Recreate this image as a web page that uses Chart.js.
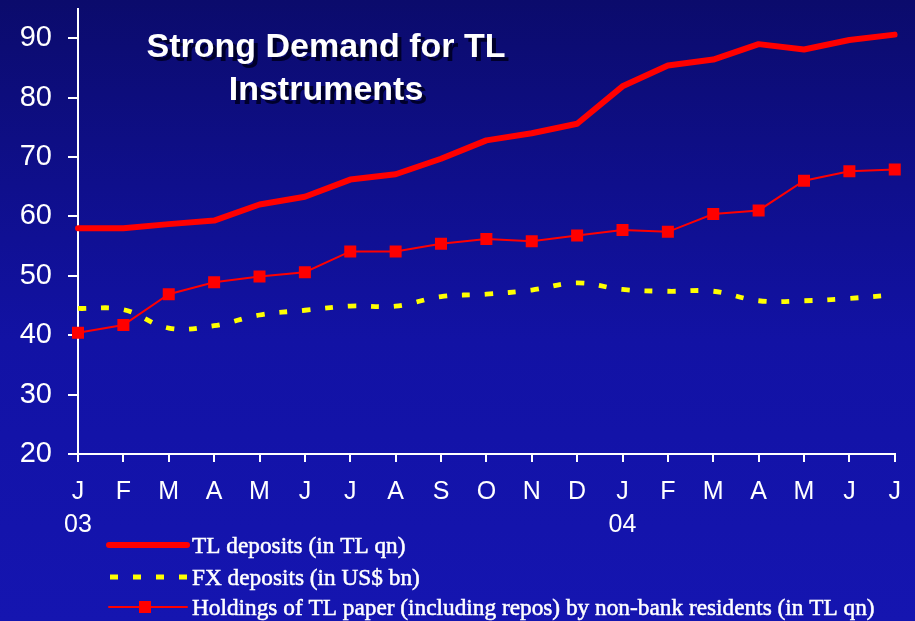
<!DOCTYPE html>
<html>
<head>
<meta charset="utf-8">
<script src="https://cdn.jsdelivr.net/npm/chart.js@4.4.1/dist/chart.umd.min.js"></script>
<style>
  html, body { margin: 0; padding: 0; }
  body {
    width: 915px; height: 621px; overflow: hidden;
    background: linear-gradient(to bottom, #0b0b6c 0%, #0f0f8c 30%, #1212a4 55%, #1515b0 100%);
  }
</style>
</head>
<body>
<canvas id="chart" width="915" height="621"></canvas>
<script>
// Datos (ene 2003 - jul 2004)
const months = [['J', '03'], 'F', 'M', 'A', 'M', 'J', 'J', 'A', 'S', 'O', 'N', 'D',
                ['J', '04'], 'F', 'M', 'A', 'M', 'J', 'J'];
const tlDeposits = [58.0, 58.0, 58.7, 59.3, 62.0, 63.3, 66.2, 67.1, 69.7, 72.8, 74.0, 75.6,
                    81.9, 85.4, 86.4, 89.0, 88.1, 89.7, 90.6];
const fxDeposits = [44.5, 44.3, 41.2, 41.6, 43.4, 44.2, 44.9, 44.9, 46.5, 46.9, 47.6, 48.8,
                    47.7, 47.4, 47.4, 45.8, 45.8, 46.2, 46.8];
const tlPaper = [40.4, 41.7, 46.9, 48.9, 49.9, 50.6, 54.1, 54.1, 55.4, 56.2, 55.8, 56.8,
                 57.7, 57.4, 60.4, 61.0, 66.0, 67.6, 67.9];
const yTicks = [20, 30, 40, 50, 60, 70, 80, 90];
const seriesNames = ['TL deposits (in TL qn)', 'FX deposits (in US$ bn)',
                     'Holdings of TL paper (including repos) by non-bank residents (in TL qn)'];
const chartTitle = ['Strong Demand for TL', 'Instruments'];

// Título con sombra dentro del área del gráfico
const titlePlugin = {
  id: 'slideTitle',
  afterDatasetsDraw(chart) {
    const ctx = chart.ctx;
    ctx.save();
    ctx.font = 'bold 34px "Liberation Sans", Arial, sans-serif';
    ctx.textAlign = 'center';
    ctx.textBaseline = 'alphabetic';
    ctx.shadowColor = 'rgba(0, 0, 40, 0.95)';
    ctx.shadowOffsetX = 4;
    ctx.shadowOffsetY = 4;
    ctx.shadowBlur = 0;
    ctx.fillStyle = '#ffffff';
    chartTitle.forEach((line, i) => ctx.fillText(line, 326, 57 + i * 43));
    ctx.restore();
  }
};

// Leyenda dibujada a mano (línea + marcador)
const legendPlugin = {
  id: 'lineLegend',
  afterDraw(chart) {
    const ctx = chart.ctx;
    const rows = [545, 577, 607];
    ctx.save();
    chart.data.datasets.forEach((ds, i) => {
      const y = rows[i];
      ctx.beginPath();
      ctx.strokeStyle = ds.borderColor;
      ctx.lineWidth = ds.borderWidth;
      ctx.lineCap = ds.borderDash ? 'butt' : 'round';
      ctx.setLineDash(ds.borderDash || []);
      ctx.moveTo(ds.borderDash ? 110 : 109, y);
      ctx.lineTo(187, y);
      ctx.stroke();
      ctx.setLineDash([]);
      if (ds.pointRadius > 0) {
        ctx.fillStyle = ds.pointBackgroundColor;
        ctx.fillRect(139, y - 6, 12, 12);
      }
      ctx.font = '23.3px "Liberation Serif", "Times New Roman", serif';
      ctx.fillStyle = '#ffffff';
      ctx.strokeStyle = '#ffffff';
      ctx.lineWidth = 0.5;
      ctx.textAlign = 'left';
      ctx.textBaseline = 'middle';
      ctx.fillText(ds.label, 192, y + 2);
      ctx.strokeText(ds.label, 192, y + 2);
    });
    ctx.restore();
  }
};

new Chart(document.getElementById('chart'), {
  type: 'line',
  data: {
    labels: months,
    datasets: [
      {
        label: seriesNames[0],
        data: tlDeposits,
        borderColor: '#ff0000',
        borderWidth: 6,
        pointRadius: 0,
        tension: 0,
        borderJoinStyle: 'round',
        borderCapStyle: 'round'
      },
      {
        label: seriesNames[1],
        data: fxDeposits,
        borderColor: '#ffff00',
        borderWidth: 4.8,
        borderDash: [8, 15],
        pointRadius: 0,
        tension: 0.4
      },
      {
        label: seriesNames[2],
        data: tlPaper,
        borderColor: '#ff0000',
        borderWidth: 2,
        pointStyle: 'rect',
        pointRadius: 8.5,
        pointBorderWidth: 0,
        pointBackgroundColor: '#ff0000',
        tension: 0
      }
    ]
  },
  options: {
    responsive: false,
    animation: false,
    layout: { padding: { top: 5, right: 20, left: 0, bottom: 0 } },
    plugins: {
      legend: { display: false },
      tooltip: { enabled: false }
    },
    scales: {
      x: {
        offset: false,
        grid: { drawOnChartArea: false, color: '#ffffff', lineWidth: 2, tickLength: 8 },
        border: { color: '#ffffff', width: 2 },
        ticks: {
          color: '#ffffff',
          padding: 14,
          maxRotation: 0,
          autoSkip: false,
          font: { family: '"Liberation Sans", Arial, sans-serif', size: 25, lineHeight: 1.3 }
        },
        afterFit: scale => { scale.height = 167; }
      },
      y: {
        min: 20,
        max: 95,
        grid: { drawOnChartArea: false, color: '#ffffff', lineWidth: 2, tickLength: 10 },
        border: { color: '#ffffff', width: 2 },
        afterBuildTicks: axis => { axis.ticks = yTicks.map(v => ({ value: v })); },
        ticks: {
          color: '#ffffff',
          padding: 16,
          font: { family: '"Liberation Sans", Arial, sans-serif', size: 29 }
        },
        afterFit: scale => {
          scale.width = 78;
          scale.paddingTop = 0;
          scale.paddingBottom = 0;
        }
      }
    }
  },
  plugins: [titlePlugin, legendPlugin]
});
</script>
</body>
</html>
